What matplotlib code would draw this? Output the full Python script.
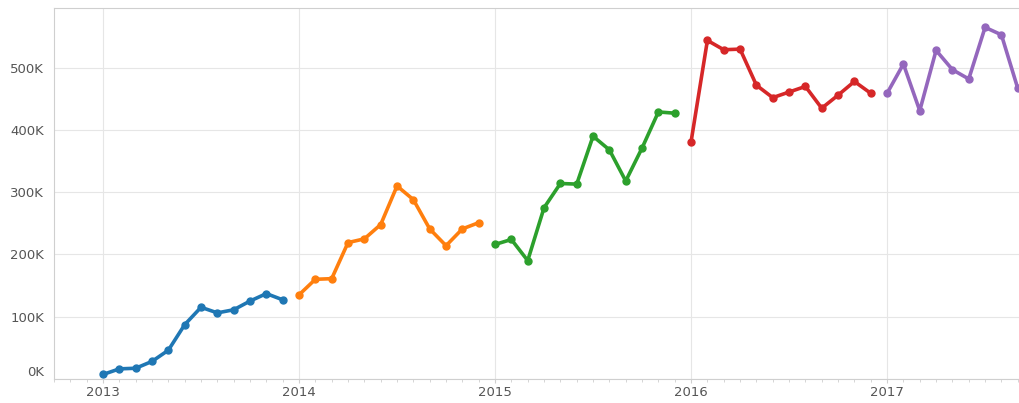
import numpy as np
import matplotlib.pyplot as plt
from matplotlib.ticker import FuncFormatter, MultipleLocator

# Monthly values (in thousands), one list per year
years = [2013, 2014, 2015, 2016, 2017]
sales_2013 = [7, 16, 17, 28, 46, 87, 115, 106, 111, 125, 137, 127]
sales_2014 = [135, 160, 161, 219, 225, 248, 310, 288, 241, 214, 241, 251]
sales_2015 = [216, 224, 190, 275, 314, 313, 390, 368, 318, 371, 429, 427]
sales_2016 = [381, 544, 529, 530, 472, 452, 461, 470, 435, 456, 478, 459]
sales_2017 = [459, 506, 431, 528, 497, 482, 565, 553, 467]
series = [sales_2013, sales_2014, sales_2015, sales_2016, sales_2017]
colors = ['#1f77b4', '#ff7f0e', '#2ca02c', '#d62728', '#9467bd']
y_ticks = [0, 100000, 200000, 300000, 400000, 500000]

fig = plt.figure(figsize=(10.19, 4.03), dpi=100)
ax = fig.add_axes([0.053, 0.060, 0.947, 0.920])

for year, vals, c in zip(years, series, colors):
    x = year + np.arange(len(vals)) / 12
    y = np.array(vals) * 1000
    ax.plot(x, y, color=c, lw=2.6, marker='o', ms=5, solid_joinstyle='round')

ax.set_xlim(2012.75, 2017.673)
ax.set_ylim(0, 596000)

ax.set_xticks(years)
ax.xaxis.set_minor_locator(MultipleLocator(1 / 12))
ax.set_yticks(y_ticks)
ax.yaxis.set_major_formatter(FuncFormatter(lambda v, p: f'{int(v / 1000)}K'))

ax.grid(True, which='major', color='#e6e6e6', lw=0.8)
ax.set_axisbelow(True)

for side in ['top', 'bottom', 'left']:
    ax.spines[side].set_color('#cfcfcf')
ax.spines['right'].set_visible(False)

ax.tick_params(axis='both', which='major', labelsize=9.5, labelcolor='#555555',
               color='#cfcfcf', length=0, pad=7)
ax.tick_params(axis='x', which='major', length=3, pad=2)
ax.tick_params(axis='x', which='minor', length=2, color='#cfcfcf')

# the 0K label sits a little above the baseline, as in the reference
ax.yaxis.get_major_ticks()[0].label1.set_verticalalignment('bottom')

fig.savefig('out.png', dpi=100)
